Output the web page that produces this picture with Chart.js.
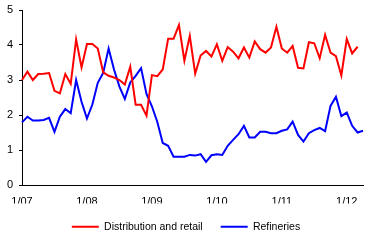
<!DOCTYPE html>
<html lang="en">
<head>
  <meta charset="UTF-8">
  <title>Distribution and retail vs Refineries</title>
  <script src="https://cdn.jsdelivr.net/npm/chart.js"></script>
  <style>
    html, body { margin: 0; padding: 0; background: #fff; }
    #wrap { width: 372px; height: 247px; }
  </style>
</head>
<body>
  <div id="wrap"><canvas id="grafico" width="372" height="247"></canvas></div>

  <script>
    // monthly, 1/07 .. 4/12
    const years = ['07', '08', '09', '10', '11', '12'];
    const meses = [];
    years.forEach(y => { for (let m = 1; m <= 12; m++) meses.push(m + '/' + y); });
    const categorias = meses.slice(0, 64);
    const tickLabels = ['1/07', '1/08', '1/09', '1/10', '1/11', '1/12'];

    const distribucion = [
      3.0, 3.24, 3.0, 3.17, 3.18, 3.2, 2.69, 2.62, 3.17, 2.89,
      4.16, 3.36, 4.03, 4.03, 3.9, 3.22, 3.12, 3.07, 3.0, 2.87,
      3.38, 2.29, 2.29, 1.98, 3.14, 3.11, 3.3, 4.18, 4.18, 4.57,
      3.55, 4.26, 3.18, 3.7, 3.83, 3.67, 4.02, 3.55, 3.94, 3.81,
      3.62, 3.93, 3.64, 4.1, 3.88, 3.78, 3.93, 4.52, 3.9, 3.78,
      3.97, 3.35, 3.33, 4.08, 4.05, 3.62, 4.29, 3.78, 3.68, 3.13,
      4.17, 3.76, 3.95
    ];
    const refinerias = [
      1.79, 1.95, 1.84, 1.84, 1.86, 1.92, 1.52, 1.95, 2.17, 2.05,
      3.0, 2.38, 1.9, 2.3, 2.92, 3.2, 3.9, 3.3, 2.81, 2.46,
      2.93, 3.12, 3.34, 2.6, 2.25, 1.8, 1.2, 1.12, 0.81, 0.81,
      0.81, 0.86, 0.84, 0.88, 0.66, 0.85, 0.88, 0.86, 1.12, 1.29,
      1.45, 1.69, 1.36, 1.36, 1.52, 1.52, 1.48, 1.48, 1.55, 1.59,
      1.81, 1.43, 1.24, 1.48, 1.57, 1.63, 1.54, 2.26, 2.52, 1.97,
      2.07, 1.69, 1.5, 1.55
    ];

    const fuente = { family: 'Liberation Sans, Arial, sans-serif', size: 11 };

    new Chart(document.getElementById('grafico'), {
      type: 'line',
      data: {
        labels: categorias,
        datasets: [
          {
            label: 'Distribution and retail',
            data: distribucion,
            borderColor: '#ff0000',
            backgroundColor: '#ff0000',
            borderWidth: 2,
            pointRadius: 0,
            tension: 0
          },
          {
            label: 'Refineries',
            data: refinerias,
            borderColor: '#0000ff',
            backgroundColor: '#0000ff',
            borderWidth: 2,
            pointRadius: 0,
            tension: 0
          }
        ]
      },
      options: {
        responsive: false,
        animation: false,
        layout: { padding: { left: 0, right: 0, top: 10, bottom: 5 } },
        scales: {
          x: {
            offset: false,
            grid: { display: false, drawTicks: false },
            border: { display: true, color: '#000', width: 1 },
            ticks: {
              autoSkip: false,
              maxRotation: 0,
              padding: 10,
              color: '#000',
              font: fuente,
              callback: function (v, i) {
                const l = this.getLabelForValue(v);
                return tickLabels.includes(l) ? l : '';
              }
            },
            afterFit: s => { s.height = 18.5; s.paddingLeft = 0; s.paddingRight = 9; }
          },
          y: {
            min: 0,
            max: 5,
            grid: { drawOnChartArea: false, tickLength: 3, color: '#000' },
            border: { display: true, color: '#000', width: 1 },
            ticks: { stepSize: 1, padding: 6, color: '#000', font: fuente },
            afterFit: s => { s.width = 22; s.paddingTop = 0; s.paddingBottom = 0; }
          }
        },
        plugins: {
          tooltip: { enabled: false },
          legend: {
            position: 'bottom',
            labels: {
              usePointStyle: true,
              pointStyle: 'line',
              pointStyleWidth: 27,
              padding: 18,
              color: '#000',
              font: { family: 'Liberation Sans, Arial, sans-serif', size: 10.5 }
            }
          }
        }
      }
    });
  </script>
</body>
</html>
